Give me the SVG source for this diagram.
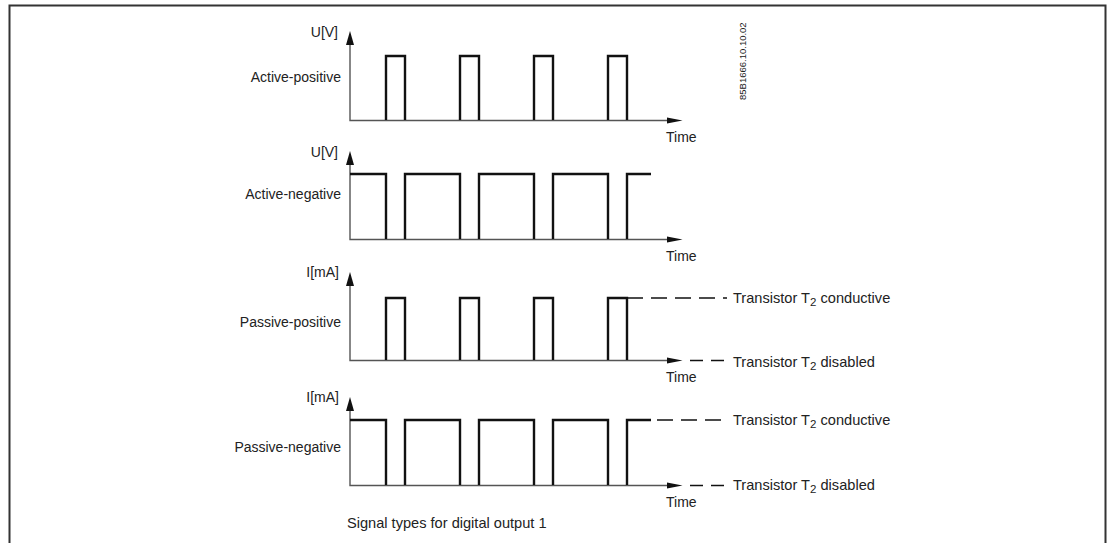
<svg xmlns="http://www.w3.org/2000/svg" width="1111" height="543" viewBox="0 0 1111 543">
<style>
text{font-family:"Liberation Sans",Arial,sans-serif;font-size:14px;fill:#222}
.lbl{text-anchor:end}
.big{font-size:14.6px}
.axis{stroke:#555;stroke-width:1.4;fill:none}
.sig{stroke:#111;stroke-width:2.4;fill:none;stroke-linejoin:miter}
.dash{stroke:#111;stroke-width:1.3;fill:none;stroke-dasharray:16 8}
.head{fill:#111}
</style>
<rect width="1111" height="543" fill="#fff"/>
<path d="M9.5 548 V5.5 H1105.5 V548" fill="none" stroke="#333" stroke-width="2"/>
<text x="745.5" y="100" transform="rotate(-90 745.5 100)" style="font-size:9.5px">85B1666.10.10.02</text>

<g id="panel-active-positive">
<text class="lbl" x="338" y="37">U[V]</text>
<text class="lbl" x="341" y="82">Active-positive</text>
<path class="axis" d="M350 44 V120.5 H668"/>
<path class="head" d="M346 45 L350 31 L354 45 Z"/>
<path class="head" d="M667 117.5 L682.5 120.5 L667 123.5 Z"/>
<path class="sig" d="M386 120 V56 H405 V120 M460 120 V56 H479 V120 M534 120 V56 H553 V120 M608 120 V56 H627 V120"/>
<text x="666" y="142">Time</text>
</g>

<g id="panel-active-negative">
<text class="lbl" x="338" y="157">U[V]</text>
<text class="lbl" x="341" y="199">Active-negative</text>
<path class="axis" d="M350 164 V239.5 H668"/>
<path class="head" d="M346 165 L350 151 L354 165 Z"/>
<path class="head" d="M667 236.5 L682.5 239.5 L667 242.5 Z"/>
<path class="sig" d="M350 174 H386 V239 M405 239 V174 H460 V239 M479 239 V174 H534 V239 M553 239 V174 H608 V239 M627 239 V174 H651"/>
<text x="666" y="261">Time</text>
</g>

<g id="panel-passive-positive">
<text class="lbl" x="339" y="277">I[mA]</text>
<text class="lbl" x="341" y="327">Passive-positive</text>
<path class="axis" d="M350 285 V360.5 H668"/>
<path class="head" d="M346 286 L350 272 L354 286 Z"/>
<path class="head" d="M667 357.5 L682.5 360.5 L667 363.5 Z"/>
<path class="sig" d="M386 360 V298 H405 V360 M460 360 V298 H479 V360 M534 360 V298 H553 V360 M608 360 V298 H627 V360"/>
<path class="dash" d="M627 298 H727"/>
<path class="dash" d="M690 360.5 H727" style="stroke-dasharray:13 8"/>
<text class="big" x="733" y="303">Transistor T<tspan dy="3" style="font-size:11.5px">2</tspan><tspan dy="-3"> conductive</tspan></text>
<text class="big" x="733" y="367">Transistor T<tspan dy="3" style="font-size:11.5px">2</tspan><tspan dy="-3"> disabled</tspan></text>
<text x="666" y="382">Time</text>
</g>

<g id="panel-passive-negative">
<text class="lbl" x="339" y="402">I[mA]</text>
<text class="lbl" x="341" y="452">Passive-negative</text>
<path class="axis" d="M350 410 V485.5 H668"/>
<path class="head" d="M346 411 L350 397 L354 411 Z"/>
<path class="head" d="M667 482.5 L682.5 485.5 L667 488.5 Z"/>
<path class="sig" d="M350 420 H386 V485 M405 485 V420 H460 V485 M479 485 V420 H534 V485 M553 485 V420 H608 V485 M627 485 V420 H651"/>
<path class="dash" d="M651 420 H727" style="stroke-dasharray:0 6 16 8 16 8 16 8"/>
<path class="dash" d="M690 485.5 H727" style="stroke-dasharray:13 8"/>
<text class="big" x="733" y="425">Transistor T<tspan dy="3" style="font-size:11.5px">2</tspan><tspan dy="-3"> conductive</tspan></text>
<text class="big" x="733" y="490">Transistor T<tspan dy="3" style="font-size:11.5px">2</tspan><tspan dy="-3"> disabled</tspan></text>
<text x="666" y="507">Time</text>
</g>

<text class="big" x="347" y="528">Signal types for digital output 1</text>
</svg>
